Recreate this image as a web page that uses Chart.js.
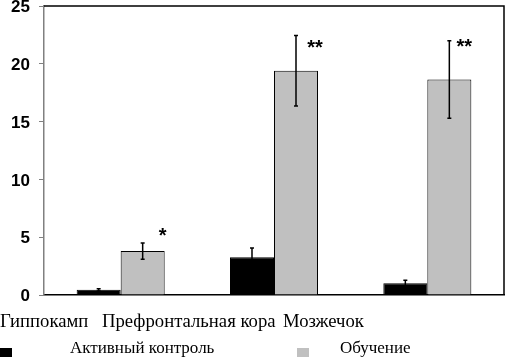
<!DOCTYPE html>
<html><head><meta charset="utf-8">
<script src="https://cdn.jsdelivr.net/npm/chart.js@4/dist/chart.umd.min.js"></script>
<style>html,body{margin:0;padding:0;background:#fff}#wrap{width:506px;height:357px;position:relative}</style>
</head><body><div id="wrap"><canvas id="c"></canvas></div>
<script>
const categories = ['Гиппокамп', 'Префронтальная кора', 'Мозжечок'];
const seriesNames = ['Активный контроль', 'Обучение'];
const controlValues = [0.45, 3.27, 1.02];
const controlErrors = [0.1, 0.8, 0.25];
const trainingValues = [3.8, 19.4, 18.65];
const trainingErrors = [0.7, 3.05, 3.35];
const significance = ['*', '**', '**'];
const significanceY = [5.4, 21.7, 21.8];
const yTicks = [0, 5, 10, 15, 20, 25];

const errorPlugin = {
  id: 'errs',
  afterDatasetsDraw(chart) {
    const ctx = chart.ctx, y = chart.scales.y;
    const errs = [controlErrors, trainingErrors];
    ctx.save();
    ctx.strokeStyle = '#000'; ctx.lineWidth = 1.5;
    chart.data.datasets.forEach((ds, di) => {
      const meta = chart.getDatasetMeta(di);
      meta.data.forEach((bar, i) => {
        const v = ds.data[i], e = errs[di][i];
        const x = bar.x, yt = y.getPixelForValue(v + e), yb = y.getPixelForValue(v - e);
        ctx.beginPath(); ctx.moveTo(x, yt); ctx.lineTo(x, yb);
        ctx.moveTo(x - 2, yt); ctx.lineTo(x + 2, yt);
        ctx.moveTo(x - 2, yb); ctx.lineTo(x + 2, yb);
        ctx.stroke();
      });
    });
    const meta1 = chart.getDatasetMeta(1);
    ctx.fillStyle = '#000'; ctx.font = 'bold 20px "Liberation Sans", Arial, sans-serif';
    ctx.textAlign = 'center'; ctx.textBaseline = 'middle';
    const offs = [20, 19, 15];
    significance.forEach((s, i) => {
      ctx.fillText(s, meta1.data[i].x + offs[i], y.getPixelForValue(significanceY[i]) + 4);
    });
    const a = chart.chartArea;
    ctx.strokeStyle = '#000'; ctx.lineWidth = 1.5;
    ctx.beginPath(); ctx.moveTo(a.left, a.top); ctx.lineTo(a.right, a.top); ctx.lineTo(a.right, a.bottom); ctx.stroke();
    ctx.restore();
  },
  afterDraw(chart) {
    const ctx = chart.ctx;
    ctx.save();
    ctx.fillStyle = '#000';
    ctx.font = '18.7px "Liberation Serif", "Times New Roman", serif';
    ctx.textBaseline = 'alphabetic'; ctx.textAlign = 'left';
    const catX = [0, 102, 283];
    categories.forEach((c, i) => ctx.fillText(c, catX[i], 327));
    ctx.font = '17px "Liberation Serif", "Times New Roman", serif';
    ctx.fillStyle = '#000'; ctx.fillRect(0, 348, 12, 10);
    ctx.fillText(seriesNames[0], 70, 353);
    ctx.fillStyle = '#c0c0c0'; ctx.fillRect(297, 348, 12, 10);
    ctx.fillStyle = '#000';
    ctx.fillText(seriesNames[1], 340, 353);
    ctx.restore();
  }
};

new Chart(document.getElementById('c'), {
  type: 'bar',
  data: {
    labels: categories,
    datasets: [
      { label: seriesNames[0], data: controlValues, backgroundColor: '#000', borderColor: '#000', borderWidth: 1 },
      { label: seriesNames[1], data: trainingValues, backgroundColor: '#c0c0c0', borderColor: '#000', borderWidth: 1 }
    ]
  },
  options: {
    responsive: true, maintainAspectRatio: false, animation: false,
    layout: { padding: { top: 6, right: 2, bottom: 62, left: 0 } },
    plugins: { legend: { display: false }, tooltip: { enabled: false } },
    datasets: { bar: { categoryPercentage: 0.574, barPercentage: 1.0 } },
    scales: {
      x: {
        ticks: { display: false },
        grid: { display: false },
        border: { display: true, color: '#000', width: 1.5 },
        afterFit(s) { s.height = 0; s.paddingLeft = 0; s.paddingRight = 0; }
      },
      y: {
        min: 0, max: 25,
        afterFit(s) { s.width = 44; s.paddingTop = 0; s.paddingBottom = 0; },
        afterBuildTicks(s) { s.ticks = yTicks.map(v => ({ value: v })); },
        ticks: { color: '#000', padding: 9, labelOffset: 1.5, font: { family: '"Liberation Sans", Arial, sans-serif', size: 17, weight: 'bold' } },
        grid: { drawOnChartArea: false, drawTicks: true, tickLength: 5, color: '#808080' },
        border: { display: true, color: '#808080', width: 1.5 }
      }
    }
  },
  plugins: [errorPlugin]
});
</script></body></html>
